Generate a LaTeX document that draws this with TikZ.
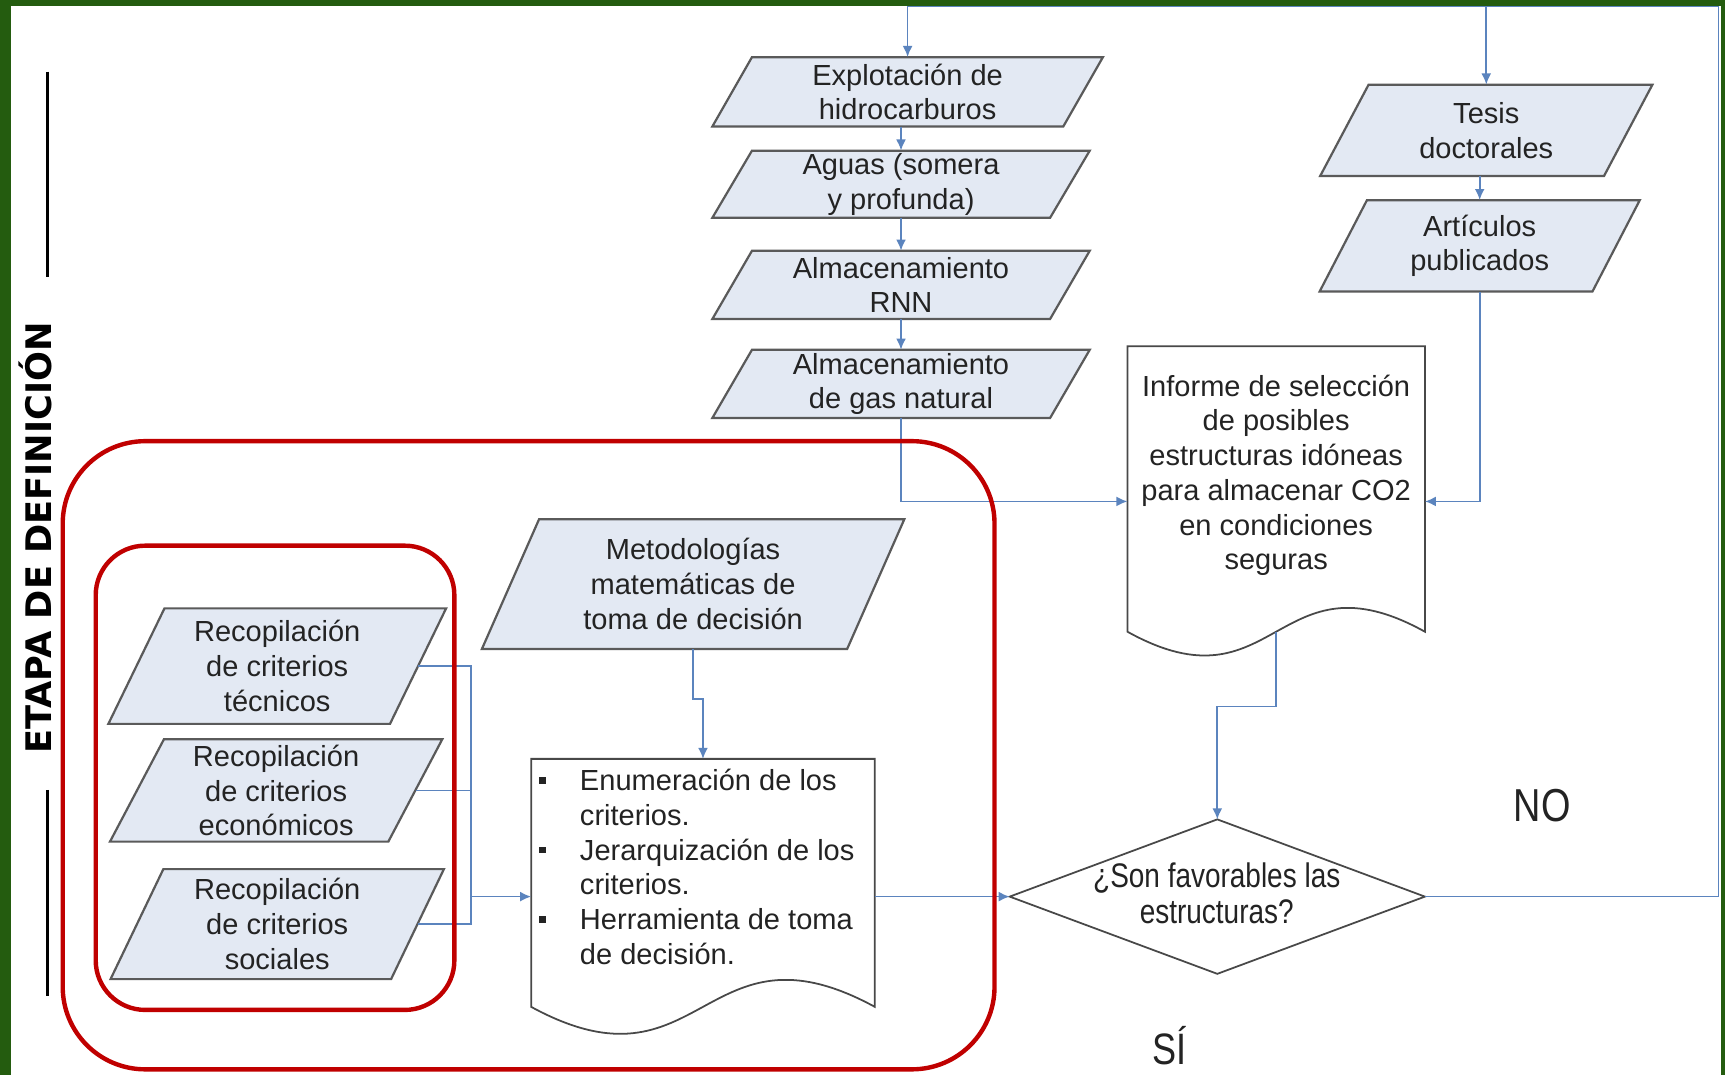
\documentclass[tikz,border=0pt]{standalone}
\usepackage{fontspec}
\setmainfont{Liberation Sans}
\newfontfamily\narrowfont[FakeStretch=0.82]{Liberation Sans}
\newfontfamily\stagefont{DejaVu Sans}
\usetikzlibrary{arrows.meta,calc}
\definecolor{framegreen}{HTML}{245C0F}
\definecolor{conncol}{HTML}{5B84BE}
\definecolor{parafillc}{HTML}{E3E9F3}
\definecolor{paradraw}{HTML}{5A5A5A}
\definecolor{redbox}{HTML}{C00000}
\definecolor{txt}{HTML}{232323}
\newcommand\mainsize{\fontsize{26.4pt}{31.6pt}\selectfont}
\newcommand\paranode[7]{%
  \draw[parashape] ({#2-#4/2-#6/2},{#3+#5/2}) -- ++(#4,0) -- ++(#6,-#5) -- ++(-#4,0) -- cycle;
  \node[paratext,minimum width=#4pt,minimum height=#5pt] (#1) at (#2,#3) {#7};}
\newcommand\bul{\makebox[37pt][l]{\raisebox{6pt}{\rule{6pt}{6pt}}}}
\newcommand\ind{\hspace*{37pt}}
\begin{document}
\begin{tikzpicture}[x=1pt,y=-1pt,
  parashape/.style={fill=parafillc,draw=paradraw,line width=2pt,line join=miter},
  paratext/.style={inner sep=0pt,align=center,font=\mainsize,text=txt},
  docshape/.style={fill=white,draw=paradraw!80!black,line width=1.6pt},
  plain/.style={inner sep=0pt,draw=none},
  conn/.style={draw=conncol,line width=1.6pt},
  arr/.style={conn,-{Latex[length=10pt,width=9pt]}},
  redframe/.style={draw=redbox,line width=4pt},
  narrowtext/.style={inner sep=0pt,align=center,text=txt}]

\useasboundingbox (0,0) rectangle (1568,977);
\fill[white] (0,0) rectangle (1568,977);
\fill[framegreen] (0,0) rectangle (10,977);
\fill[framegreen] (0,0) rectangle (1568,5);
\fill[framegreen] (1564,0) rectangle (1568,977);

% stage label
\node[rotate=90,inner sep=0pt,text=black,font={\stagefont\bfseries\fontsize{32pt}{38pt}\selectfont}] (stage) at (32,489) {ETAPA DE DEFINICIÓN};
\draw[line width=2.5pt] (43,65) -- (43,252);
\draw[line width=2.5pt] (43,718) -- (43,905);

% parallelograms
\paranode{expl}{825}{83.5}{319}{63}{36}{Explotación de\\hidrocarburos}
\paranode{aguas}{819}{167.5}{307}{61}{36}{Aguas (somera\\y profunda)}
\paranode{rnn}{819}{259}{307}{62}{36}{Almacenamiento\\RNN}
\paranode{gas}{819}{349}{307}{62}{36}{Almacenamiento\\de gas natural}
\paranode{tesis}{1351}{118.5}{258}{83}{44}{Tesis\\doctorales}
\paranode{art}{1345}{223.5}{248}{83}{43}{Artículos\\publicados}
\paranode{meto}{630}{531}{332}{118}{52}{Metodologías\\matemáticas de\\toma de decisión}
\paranode{tec}{252}{605.5}{256}{105}{51}{Recopilación\\de criterios\\técnicos}
\paranode{eco}{251}{718.5}{253}{93}{49}{Recopilación\\de criterios\\económicos}
\paranode{soc}{252}{840}{255}{100}{48}{Recopilación\\de criterios\\sociales}

% report document
\node[plain,minimum width=270pt,minimum height=259pt] (inf) at (1160,444.5) {};
\draw[docshape] (inf.south west) -- (inf.north west) -- (inf.north east) -- (inf.south east)
  .. controls ($(inf.south)+(0,-75)$) and ($(inf.south)+(0,75)$) .. (inf.south west) -- cycle;
\node[paratext] (inftext) at (1160,432) {Informe de selección\\de posibles\\estructuras idóneas\\para almacenar CO2\\en condiciones\\seguras};

% criteria document
\node[plain,minimum width=312pt,minimum height=225pt] (enum) at (639,802.5) {};
\draw[docshape] (enum.south west) -- (enum.north west) -- (enum.north east) -- (enum.south east)
  .. controls ($(enum.south)+(0,-85)$) and ($(enum.south)+(0,85)$) .. (enum.south west) -- cycle;
\node[paratext,align=left,anchor=west] (enumtext) at (490,788) {\bul Enumeración de los\\\ind criterios.\\\bul Jerarquización de los\\\ind criterios.\\\bul Herramienta de toma\\\ind de decisión.};

% decision
\node[plain,minimum width=377pt,minimum height=140pt] (dia) at (1106.5,815) {};
\draw[docshape] (dia.west) -- (dia.north) -- (dia.east) -- (dia.south) -- cycle;
\node[narrowtext,font={\narrowfont\fontsize{31pt}{32pt}\selectfont}] (diatext) at (1106,812) {¿Son favorables las\\estructuras?};

\node[narrowtext,font={\narrowfont\fontsize{42pt}{42pt}\selectfont}] (no) at (1402,732) {NO};
\node[narrowtext,font={\narrowfont\fontsize{40pt}{40pt}\selectfont}] (si) at (1063,950) {SÍ};

% connectors
\coordinate (cr) at (1562,6);
\coordinate (j) at (428,815);
\draw[arr] (dia.east) -| (cr) -| (expl.north);
\draw[arr] (cr -| tesis.north) -- (tesis.north);
\draw[arr] (expl.south -| aguas.north) -- (aguas.north);
\draw[arr] (aguas.south) -- (rnn.north);
\draw[arr] (rnn.south) -- (gas.north);
\draw[arr] (gas.south) |- ($(inf.north west)+(0,141)$);
\draw[arr] (tesis.south -| art.north) -- (art.north);
\draw[arr] (art.south) |- ($(inf.north east)+(0,141)$);
\draw[arr] (inf.south) -- ++(0,68) -| (dia.north);
\draw[arr] (meto.south) -- ++(0,45) -| (enum.north);
\draw[conn] (tec.east) -| (j);
\draw[conn] (eco.east) -| (j);
\draw[conn] (soc.east) -| (j);
\draw[arr] (j) -- (j -| enum.west);
\draw[arr] (enum.east |- dia.west) -- (dia.west);

% red frames
\draw[redframe,rounded corners=45pt] (87,496) rectangle (413,918);
\draw[redframe,rounded corners=75pt] (57,401) rectangle (904,972);
\end{tikzpicture}
\end{document}
